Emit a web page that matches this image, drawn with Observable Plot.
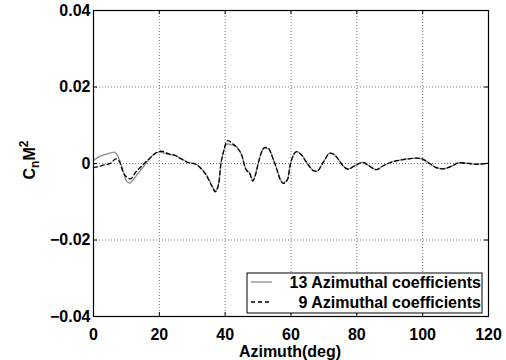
<!DOCTYPE html>
<html>
<head>
<meta charset="utf-8">
<script src="https://cdn.jsdelivr.net/npm/d3@7"></script>
<script src="https://cdn.jsdelivr.net/npm/@observablehq/plot@0.6"></script>
<style>
  html, body { margin: 0; padding: 0; background: white; }
  #chart svg { display: block; }
</style>
</head>
<body>
<div id="chart"></div>
<script>
// ---- data ----
const xTicks = [0, 20, 40, 60, 80, 100, 120];
const yTicks = [-0.04, -0.02, 0, 0.02, 0.04];
const seriesNames = ["13 Azimuthal coefficients", "9 Azimuthal coefficients"];

const az13 = [0, 1.7, 3.7, 6.3, 7.3, 8.3, 9.3, 9.8, 11.0, 12.3, 13.8, 15.9, 17.9, 19.9, 22.9, 24.7, 26.8, 28.8, 30.8, 32.4, 34.4, 36.0, 37.0, 38.0, 38.7, 39.5, 40.5, 42.0, 43.5, 45.1, 46.1, 47.6, 48.4, 49.1, 50.1, 51.1, 52.1, 53.1, 54.6, 55.7, 56.7, 57.7, 59.0, 59.7, 60.7, 61.7, 63.2, 64.8, 66.8, 67.8, 69.8, 71.8, 72.8, 74.3, 76.0, 77.4, 79.5, 81.9, 83.5, 85.9, 88.0, 90.0, 94.0, 98.1, 99.5, 102.1, 104.0, 106.2, 108.5, 111.2, 114.2, 116.2, 120];
const cn13 = [0.0008, 0.0018, 0.0024, 0.003, 0.0021, 0.0, -0.0027, -0.0043, -0.0051, -0.004, -0.0023, 0.0, 0.0021, 0.003, 0.0024, 0.0022, 0.0012, 0.0003, 0.0, -0.001, -0.0031, -0.0058, -0.0071, -0.0053, 0.0, 0.003, 0.0051, 0.0049, 0.0043, 0.0021, -0.001, -0.0027, -0.0044, -0.0031, 0.0003, 0.003, 0.004, 0.0039, 0.0012, -0.0014, -0.004, -0.005, -0.004, -0.0005, 0.0021, 0.0031, 0.0023, 0.0003, -0.0018, -0.002, 0.0003, 0.0027, 0.0025, 0.0012, -0.0008, -0.0014, -0.0005, 0.0003, -0.0005, -0.0016, -0.0006, 0.0002, 0.001, 0.0014, 0.0013, 0.0, -0.001, -0.0014, -0.0008, 0.0002, 0.0, -0.0002, 0.0001];

const az9 = [0, 1.5, 2.7, 5.2, 6.8, 7.8, 9.0, 10.3, 11.2, 12.8, 14.8, 16.9, 18.9, 20.5, 22.9, 24.7, 26.8, 28.8, 30.8, 32.4, 34.4, 36.0, 37.0, 38.0, 38.7, 39.5, 40.8, 42.2, 43.5, 45.1, 46.1, 47.6, 48.4, 49.1, 50.1, 51.1, 52.1, 53.1, 54.6, 55.7, 56.7, 57.7, 59.0, 59.7, 60.7, 61.7, 63.2, 64.8, 66.8, 67.8, 69.8, 71.8, 72.8, 74.3, 76.0, 77.4, 79.5, 81.9, 83.5, 85.9, 88.0, 90.0, 94.0, 98.1, 99.5, 102.1, 104.0, 106.2, 108.5, 111.2, 114.2, 116.2, 120];
const cn9 = [-0.001, -0.0008, -0.0005, 0.0001, 0.0012, 0.0006, -0.0023, -0.0037, -0.004, -0.0023, -0.0005, 0.0012, 0.0027, 0.0032, 0.0025, 0.0021, 0.0011, 0.0002, -0.0001, -0.0011, -0.0033, -0.006, -0.0074, -0.0055, -0.0002, 0.0032, 0.006, 0.0052, 0.0042, 0.002, -0.0012, -0.0029, -0.0046, -0.0033, 0.0002, 0.0031, 0.0042, 0.004, 0.0011, -0.0016, -0.0042, -0.0052, -0.0041, -0.0006, 0.0021, 0.0031, 0.0022, 0.0002, -0.0019, -0.0021, 0.0003, 0.0027, 0.0025, 0.0012, -0.0008, -0.0015, -0.0005, 0.0003, -0.0005, -0.0016, -0.0006, 0.0002, 0.001, 0.0014, 0.0013, 0.0, -0.001, -0.0014, -0.0008, 0.0002, 0.0, -0.0002, 0.0001];

// ---- build ----
const s13 = az13.map((x, i) => ({x, y: cn13[i]}));
const s9 = az9.map((x, i) => ({x, y: cn9[i]}));

const W = 506, H = 360;
const mL = 93, mR = 18, mT = 10, mB = 44;
const fw = W - mL - mR, fh = H - mT - mB;
const tk = 4;
const fmtY = d => d === 0 ? "0" : (d < 0 ? "\u2212" : "") + Math.abs(d).toFixed(2);
const font = "'Liberation Sans', Arial, sans-serif";

const chart = Plot.plot({
  width: W, height: H,
  marginLeft: mL, marginRight: mR, marginTop: mT, marginBottom: mB,
  x: {domain: [0, 120]},
  y: {domain: [-0.04, 0.04]},
  style: {fontFamily: font, fontWeight: "bold", fontSize: "16px", background: "white", color: "black"},
  marks: [
    Plot.gridX(xTicks.slice(1, -1), {stroke: "#777", strokeOpacity: 1, strokeDasharray: "1,2"}),
    Plot.gridY(yTicks.slice(1, -1), {stroke: "#777", strokeOpacity: 1, strokeDasharray: "1,2"}),
    Plot.line(s13, {x: "x", y: "y", stroke: "#8c8c8c", strokeWidth: 1.3, curve: "monotone-x"}),
    Plot.line(s9, {x: "x", y: "y", stroke: "black", strokeWidth: 1.3, strokeDasharray: "4,3", curve: "monotone-x"}),
    Plot.tickX(xTicks, {x: d => d, insetTop: fh - tk, stroke: "black"}),
    Plot.tickX(xTicks, {x: d => d, insetBottom: fh - tk, stroke: "black"}),
    Plot.tickY(yTicks, {y: d => d, insetRight: fw - tk, stroke: "black"}),
    Plot.tickY(yTicks, {y: d => d, insetLeft: fw - tk, stroke: "black"}),
    Plot.frame({stroke: "black", strokeWidth: 1.2}),
    Plot.axisX(xTicks, {anchor: "bottom", tickSize: 0, tickPadding: 12, label: null, tickFormat: d => String(d)}),
    Plot.axisY(yTicks, {anchor: "left", tickSize: 0, tickPadding: 3, label: null, tickFormat: fmtY})
  ]
});

const svg = d3.select(chart);

// x label
svg.append("text")
  .attr("x", 290).attr("y", 357)
  .attr("text-anchor", "middle")
  .attr("font-family", font).attr("font-weight", "bold").attr("font-size", 16)
  .attr("fill", "black")
  .text("Azimuth(deg)");

// y label: C_n M^2
const yl = svg.append("text")
  .attr("transform", "translate(35,160) rotate(-90)")
  .attr("text-anchor", "middle")
  .attr("font-family", font).attr("font-weight", "bold").attr("font-size", 16)
  .attr("fill", "black");
yl.append("tspan").text("C");
yl.append("tspan").attr("font-size", 12).attr("dy", 4).text("n");
yl.append("tspan").attr("dy", -4).text("M");
yl.append("tspan").attr("font-size", 12).attr("dy", -7).text("2");

// legend
const lg = svg.append("g");
lg.append("rect").attr("x", 247).attr("y", 273).attr("width", 235).attr("height", 40)
  .attr("fill", "white").attr("stroke", "black").attr("stroke-width", 1);
const rows = [
  {name: seriesNames[0], stroke: "#8c8c8c", dash: null, y: 282},
  {name: seriesNames[1], stroke: "black", dash: "4,3", y: 302}
];
rows.forEach(r => {
  lg.append("line").attr("x1", 251).attr("x2", 272).attr("y1", r.y).attr("y2", r.y)
    .attr("stroke", r.stroke).attr("stroke-width", 1.3).attr("stroke-dasharray", r.dash);
  lg.append("text").attr("x", 481).attr("y", r.y).attr("dy", "0.36em")
    .attr("text-anchor", "end")
    .attr("font-family", font).attr("font-weight", "bold").attr("font-size", 16)
    .attr("fill", "black").text(r.name);
});

document.getElementById("chart").appendChild(chart);
</script>
</body>
</html>
